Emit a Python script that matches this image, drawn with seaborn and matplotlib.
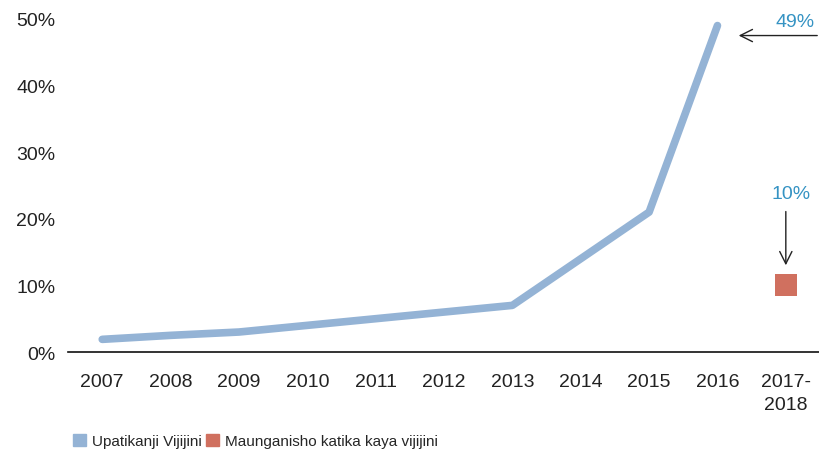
import pandas as pd
import seaborn as sns
import matplotlib.pyplot as plt
from matplotlib.patches import Patch

years = ["2007", "2008", "2009", "2010", "2011", "2012", "2013", "2014", "2015", "2016", "2017-\n2018"]
upatikanji = [1.9, 2.5, 3.0, 4.0, 5.0, 6.0, 7.0, 14.0, 21.0, 49.0]
maunganisho = [10.0]

line_color = "#94b3d5"
square_color = "#d0705f"
label_blue = "#3593c3"

sns.set_theme(style="white")
plt.rcParams['font.family'] = ['Liberation Sans', 'DejaVu Sans']

df_line = pd.DataFrame({"x": range(len(upatikanji)), "val": upatikanji})
df_sq = pd.DataFrame({"x": [len(years) - 1], "val": maunganisho})

fig = plt.figure(figsize=(8.2, 4.52), dpi=100)
ax = fig.add_axes([0.083, 0.219, 0.917, 0.737])

sns.lineplot(data=df_line, x="x", y="val", color=line_color, linewidth=5.5,
             solid_capstyle="round", ax=ax, clip_on=False)
sns.scatterplot(data=df_sq, x="x", y="val", color=square_color, marker="s",
                s=260, linewidth=0, ax=ax, clip_on=False)

ax.set_xlim(-0.5, len(years) - 0.5)
ax.set_ylim(0, 50)
ax.set_xticks(range(len(years)))
ax.set_xticklabels(years, fontsize=14, color="#222222", linespacing=1.45)
ax.set_yticks([0, 10, 20, 30, 40, 50])
ax.set_yticklabels([f"{v}%" for v in [0, 10, 20, 30, 40, 50]], fontsize=14, color="#222222")
ax.tick_params(axis="x", length=0, pad=15)
ax.tick_params(axis="y", length=0, pad=9)
ax.set_xlabel("")
ax.set_ylabel("")
for s in ["top", "right", "left"]:
    ax.spines[s].set_visible(False)
ax.spines["bottom"].set_color("#111111")
ax.spines["bottom"].set_linewidth(1.2)

# callouts
ax.annotate("", xy=(9.27, 47.5), xytext=(10.5, 47.5),
            arrowprops=dict(arrowstyle="->", color="#222222", lw=1.0, mutation_scale=22),
            annotation_clip=False)
ax.text(10.42, 48.3, "49%", color=label_blue, fontsize=14, ha="right", va="bottom")
ax.annotate("", xy=(10, 12.6), xytext=(10, 21.5),
            arrowprops=dict(arrowstyle="->", color="#222222", lw=1.0, mutation_scale=22),
            annotation_clip=False)
ax.text(10.08, 22.5, "10%", color=label_blue, fontsize=14, ha="center", va="bottom")

handles = [Patch(color=line_color, label="Upatikanji Vijijini"),
           Patch(color=square_color, label="Maunganisho katika kaya vijijini")]
fig.legend(handles=handles, loc="lower left", bbox_to_anchor=(0.072, -0.024), ncol=2,
           frameon=False, fontsize=11, handlelength=0.85, handleheight=0.85,
           handletextpad=0.4, columnspacing=0.3)

fig.savefig("out.png", dpi=100)
